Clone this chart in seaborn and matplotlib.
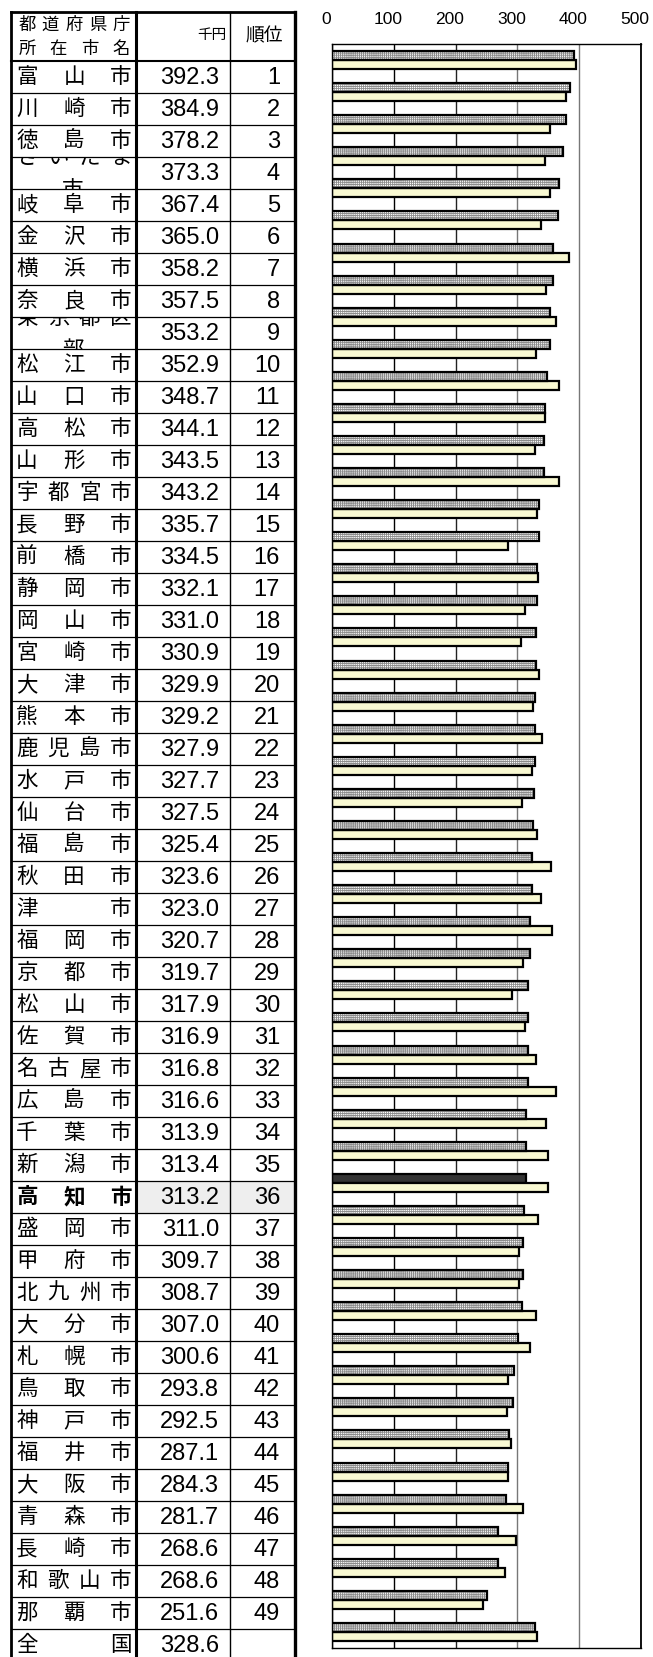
import numpy as np
import pandas as pd
import matplotlib
import matplotlib.pyplot as plt
import matplotlib.transforms as mtransforms
from matplotlib.patches import Rectangle
import seaborn as sns

# data
cities = ['富山市', '川崎市', '徳島市', 'さいたま市', '岐阜市', '金沢市', '横浜市', '奈良市',
          '東京都区部', '松江市', '山口市', '高松市', '山形市', '宇都宮市', '長野市', '前橋市',
          '静岡市', '岡山市', '宮崎市', '大津市', '熊本市', '鹿児島市', '水戸市', '仙台市',
          '福島市', '秋田市', '津市', '福岡市', '京都市', '松山市', '佐賀市', '名古屋市',
          '広島市', '千葉市', '新潟市', '高知市', '盛岡市', '甲府市', '北九州市', '大分市',
          '札幌市', '鳥取市', '神戸市', '福井市', '大阪市', '青森市', '長崎市', '和歌山市',
          '那覇市', '全国']
values = [392.3, 384.9, 378.2, 373.3, 367.4, 365.0, 358.2, 357.5, 353.2, 352.9,
          348.7, 344.1, 343.5, 343.2, 335.7, 334.5, 332.1, 331.0, 330.9, 329.9,
          329.2, 327.9, 327.7, 327.5, 325.4, 323.6, 323.0, 320.7, 319.7, 317.9,
          316.9, 316.8, 316.6, 313.9, 313.4, 313.2, 311.0, 309.7, 308.7, 307.0,
          300.6, 293.8, 292.5, 287.1, 284.3, 281.7, 268.6, 268.6, 251.6, 328.6]
# second (yellow) series
values_prev = [395, 378, 352, 344, 352, 338, 383, 347, 362, 330,
               368, 344, 329, 367, 332, 285, 333, 313, 306, 335,
               325, 340, 323, 308, 332, 354, 338, 356, 309, 292,
               313, 330, 362, 346, 350, 350, 334, 302, 302, 330,
               320, 285, 283, 289, 284, 309, 298, 280, 244, 332]
ranks = ['1', '2', '3', '4', '5', '6', '7', '8', '9', '10', '11', '12', '13', '14',
         '15', '16', '17', '18', '19', '20', '21', '22', '23', '24', '25', '26', '27',
         '28', '29', '30', '31', '32', '33', '34', '35', '36', '37', '38', '39', '40',
         '41', '42', '43', '44', '45', '46', '47', '48', '49', '']
series = ['今回', '前回']
x_ticks = [0, 100, 200, 300, 400, 500]
highlight = '高知市'

plt.rcParams['font.family'] = ['Liberation Sans', 'Noto Sans CJK JP']
plt.rcParams['hatch.linewidth'] = 0.6
jp = ['Noto Sans CJK JP', 'DejaVu Sans']

W, H = 653, 1657
fig = plt.figure(figsize=(W / 100, H / 100), dpi=100)

# ---- bar chart ----
ax = fig.add_axes([332 / W, 1 - 1648 / H, 309 / W, 1604 / H])
df = pd.DataFrame({
    'city': cities * 2,
    'value': values + values_prev,
    'series': [series[0]] * len(cities) + [series[1]] * len(cities),
})
sns.barplot(data=df, y='city', x='value', hue='series', order=cities,
            hue_order=series, orient='h', width=0.56, dodge=True,
            palette=['#d9d9d9', '#ffffcc'], edgecolor='black', linewidth=1.6,
            legend=False, ax=ax)

hi = cities.index(highlight)
for i, bar in enumerate(ax.containers[0]):
    if i == hi:
        bar.set_facecolor('#333333')
        continue
    # checker-like fill, then separate black outline on top
    bar.set_facecolor('white')
    bar.set_edgecolor('#8c8c8c')
    bar.set_hatch('++++++++')
    bar.set_linewidth(0)
    ax.add_patch(Rectangle(bar.get_xy(), bar.get_width(), bar.get_height(),
                           fill=False, edgecolor='black', linewidth=1.6, zorder=3))

ax.set_xlim(0, 500)
ax.set_ylim(len(cities) - 0.5, -0.5)
ax.set_xticks(x_ticks)
ax.set_yticks([])
ax.set_xlabel('')
ax.set_ylabel('')
ax.xaxis.tick_top()
ax.tick_params(axis='x', length=0, pad=12, labelsize=12.5)
ax.grid(axis='x', linewidth=1.0)
ax.set_axisbelow(True)
grid_colors = ['black', 'black', '#222222', '#777777', '#777777', 'black']
for gl, c in zip(ax.xaxis.get_gridlines(), grid_colors):
    gl.set_color(c)
for s in ax.spines.values():
    s.set_color('black')
    s.set_linewidth(1.0)
ax.spines['right'].set_linewidth(1.3)
shift = mtransforms.ScaledTranslation(-6 / 100, 0, fig.dpi_scale_trans)
for lab in ax.get_xticklabels():
    lab.set_transform(lab.get_transform() + shift)

# ---- table on the left ----
tab = fig.add_axes([0, 0, 1, 1], zorder=-1)
tab.set_xlim(0, W)
tab.set_ylim(H, 0)
tab.axis('off')

x_left, x_name, x_val, x_right = 11, 136, 230, 295
y_top, y_head, row_h = 12, 61, 32


def distribute(chars, y, size, weight='normal', clip=None):
    n = len(chars)
    xs = np.linspace(27, 121, n) if n > 1 else [73]
    for ch, x in zip(chars, xs):
        t = tab.text(x, y, ch, ha='center', va='center', fontsize=size,
                     family=jp, fontweight=weight)
        if clip is not None:
            t.set_clip_on(True)
            t.set_clip_path(clip)


# header
distribute('都道府県庁', 25, 12.5)
distribute('所在市名', 49, 12.5)
tab.text(226, 35, '千円', ha='right', va='center', fontsize=10.5, family=jp)
tab.text(264, 36, '順位', ha='center', va='center', fontsize=13.5, family=jp)

for i, (name, v, r) in enumerate(zip(cities, values, ranks)):
    top = y_head + row_h * i
    yc = top + row_h / 2
    if name == highlight:
        tab.add_patch(Rectangle((x_name, top), x_right - x_name, row_h,
                                facecolor='#eeeeee', edgecolor='none', zorder=0))
    weight = 'bold' if name == highlight else 'normal'
    if len(name) > 4:
        # wrapped name, cut off by the cell like in the spreadsheet
        cell = Rectangle((x_left, top), x_name - x_left, row_h, transform=tab.transData)
        distribute(name[:4], top + 1, 15.5, weight, clip=cell)
        t = tab.text(73, top + row_h + 1, name[4:], ha='center', va='center',
                     fontsize=15.5, family=jp)
        t.set_clip_on(True)
        t.set_clip_path(cell)
    else:
        distribute(name, yc, 15.5, weight)
    tab.text(219, yc + 1, f'{v:.1f}', ha='right', va='center', fontsize=17)
    tab.text(280, yc + 1, r, ha='right', va='center', fontsize=17)

# grid lines of the table
for i in range(len(cities)):
    yb = y_head + row_h * i
    tab.plot([x_left, x_right], [yb, yb], color='black', lw=1.5 if i == 0 else 0.9)
tab.plot([x_left, x_right], [y_top, y_top], color='black', lw=2.0)
tab.plot([x_left, x_left], [y_top, H], color='black', lw=2.0)
tab.plot([x_name, x_name], [y_top, H], color='black', lw=2.2)
tab.plot([x_val, x_val], [y_top, H], color='black', lw=1.0)
tab.plot([x_right, x_right], [y_top, H], color='black', lw=2.4)

fig.savefig('out.png', dpi=100)
